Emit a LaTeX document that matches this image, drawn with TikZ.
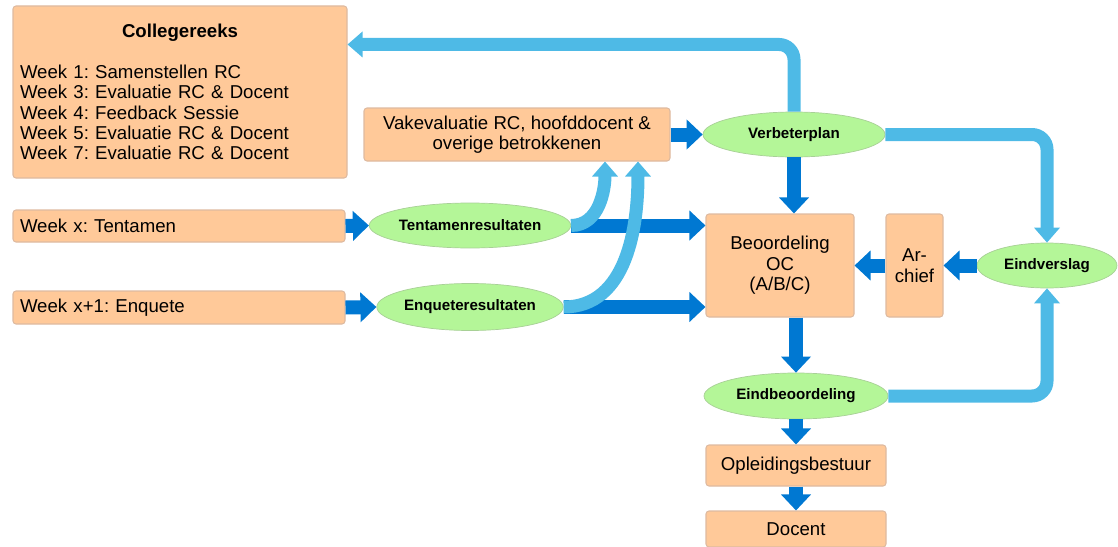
\documentclass[tikz,border=0pt]{standalone}
\usepackage{fontspec}
\setmainfont{Liberation Sans}
\usepackage{tikz}
\usetikzlibrary{arrows.meta,shapes,positioning}
\usepackage{xcolor}
\frenchspacing
\definecolor{ocorange}{RGB}{255,201,153}
\definecolor{ocorangedraw}{RGB}{222,186,160}
\definecolor{ocgreen}{RGB}{180,246,152}
\definecolor{ocgreendraw}{RGB}{168,208,150}
\definecolor{ocblue}{RGB}{0,120,210}
\definecolor{oclightblue}{RGB}{78,186,230}
\tikzstyle{flow} = [line width=0.28cm,-{Triangle[width=0.58cm,length=0.32cm]},color=ocblue]
\tikzstyle{feedback} = [line width=0.26cm,-{Triangle[width=0.5cm,length=0.3cm]},color=oclightblue,rounded corners=0.3cm]
\tikzstyle{box} = [rectangle, rounded corners=0.06cm, draw=ocorangedraw, fill=ocorange, line width=0.6pt, inner sep=0.14cm, font=\fontsize{10.6}{11.6}\selectfont, align=center]
\tikzstyle{result} = [ellipse, draw=ocgreendraw, fill=ocgreen, inner sep=0pt, minimum width=3.68cm, minimum height=0.92cm, font=\fontsize{8.6}{10}\selectfont\bfseries]

\begin{document}
\begin{tikzpicture}
\useasboundingbox (0,0) rectangle (22.36,-10.94);

% Left column
\node (coll) [box, align=left, text width=6.4cm, minimum height=3.44cm] at (3.6,-1.84) {\makebox[6.4cm]{\textbf{Collegereeks}}\\[\baselineskip]
Week 1: Samenstellen RC\\
Week 3: Evaluatie RC \& Docent\\
Week 4: Feedback Sessie\\
Week 5: Evaluatie RC \& Docent\\
Week 7: Evaluatie RC \& Docent};
\node (weekx) [box, align=left, text width=6.36cm, minimum height=0.64cm] at (3.58,-4.52) {Week x: Tentamen};
\node (weekx1) [box, align=left, text width=6.36cm, minimum height=0.66cm] at (3.58,-6.15) {Week x+1: Enquete};

% Results
\node (tentres) [result, minimum height=0.9cm] at (9.4,-4.51) {Tentamenresultaten};
\node (enqres) [result, below of=tentres, node distance=1.63cm, minimum height=0.94cm] {Enqueteresultaten};

% Right column
\node (beo) [box, minimum width=2.96cm, minimum height=2.06cm] at (15.6,-5.31) {Beoordeling\\OC\\(A/B/C)};
\node (archief) [box, right of=beo, node distance=2.69cm, minimum width=1.14cm, minimum height=2.06cm] {Ar-\\chief};
\node (eindv) [result, right of=archief, node distance=2.65cm, minimum width=2.8cm, minimum height=0.9cm] {Eindverslag};
\node (verb) [result, above of=beo, node distance=2.62cm, xshift=0.28cm, minimum width=3.64cm, minimum height=0.9cm] {Verbeterplan};
\node (vak) [box, left of=verb, node distance=5.54cm, minimum width=6.12cm, minimum height=1.06cm] {Vakevaluatie RC, hoofddocent \&\\overige betrokkenen};
\node (eindb) [result, below of=beo, node distance=2.61cm, xshift=0.32cm] {Eindbeoordeling};
\node (opl) [box, below of=eindb, node distance=1.39cm, minimum width=3.6cm, minimum height=0.82cm] {Opleidingsbestuur};
\node (docent) [box, below of=opl, node distance=1.27cm, minimum width=3.6cm, minimum height=0.72cm] {Docent};

% Arrows
\draw[flow] (weekx.east) -- (tentres.west);
\draw[flow] (weekx1.east) -- (enqres.west);
\draw[flow] (tentres.east) -- (tentres.east -| beo.west);
\draw[flow] (enqres.east) -- (enqres.east -| beo.west);
\draw[flow] (vak.east) -- (verb.west);
\draw[flow] (verb.south) -- (verb.south |- beo.north);
\draw[flow] (archief.west) -- (beo.east);
\draw[flow] (eindv.west) -- (archief.east);
\draw[flow] (eindb.north |- beo.south) -- (eindb.north);
\draw[flow] (eindb.south) -- (opl.north);
\draw[flow] (opl.south) -- (docent.north);

% Feedback
\draw[feedback] (verb.north) |- ([yshift=-0.78cm]coll.north east);
\draw[feedback] (verb.east) -| (eindv.north);
\draw[feedback] (eindb.east) -| (eindv.south);
\draw[feedback] (tentres.east) to[out=0,in=-90] ([xshift=1.76cm]vak.south);
\draw[feedback] (enqres.east) to[out=0,in=-90] ([xshift=2.42cm]vak.south);
\end{tikzpicture}
\end{document}
